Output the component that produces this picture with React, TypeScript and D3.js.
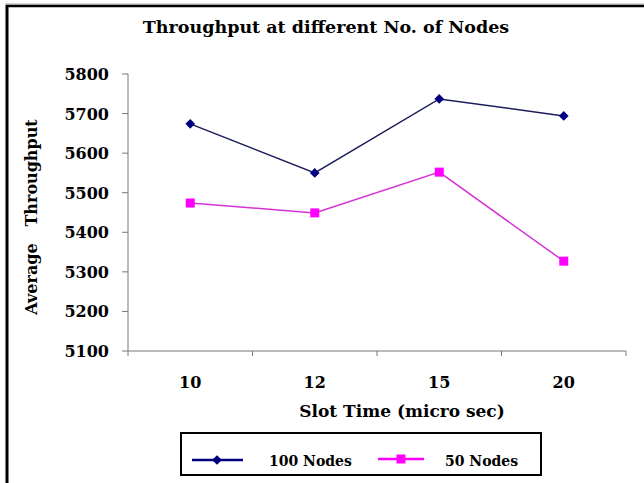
import React from 'react';
import * as d3 from 'd3';

// Values
const slotTimes = ['10', '12', '15', '20'];
const nodes100 = [5674, 5550, 5737, 5694];
const nodes50 = [5474, 5449, 5552, 5327];
const yTicks = [5100, 5200, 5300, 5400, 5500, 5600, 5700, 5800];

const W = 644;
const H = 483;
const FONT = 'DejaVu Serif, Liberation Serif, serif';
const NAVY = '#000080';
const MAGENTA = '#ff00ff';

const App = () => {
  const margin = { left: 128, right: 18, top: 74, bottom: 132 };

  const x = d3.scaleBand<string>()
    .domain(slotTimes)
    .range([margin.left, W - margin.right]);
  const y = d3.scaleLinear()
    .domain([5100, 5800])
    .range([H - margin.bottom, margin.top]);

  const cx = (d: string) => (x(d) ?? 0) + x.bandwidth() / 2;

  const line = d3.line<number>()
    .x((_, i) => cx(slotTimes[i]))
    .y(d => y(d));

  const diamond = d3.symbol().type(d3.symbolDiamond2).size(60)()!;
  const y0 = y(5100);

  // band edges for x ticks
  const xEdges = slotTimes.map(d => x(d) ?? 0).concat([W - margin.right]);

  return (
    <svg width={W} height={H} style={{ position: 'absolute', left: 0, top: 0, background: '#fff' }}>
      {/* outer frame (top and left only visible) */}
      <line x1={5} x2={W} y1={4} y2={4} stroke='#aaa' strokeWidth={1} />
      <line x1={6} x2={W} y1={6} y2={6} stroke='#000' strokeWidth={2.5} />
      <line x1={7} x2={7} y1={5} y2={H} stroke='#000' strokeWidth={3} />

      {/* title */}
      <text x={326} y={33} textAnchor='middle' fontFamily={FONT} fontWeight='bold' fontSize={17.5}>
        Throughput at different No. of Nodes
      </text>

      {/* y axis */}
      <line x1={margin.left} x2={margin.left} y1={y(5800)} y2={y0} stroke='#777' strokeWidth={1} />
      {yTicks.map(t => (
        <g key={t}>
          <line x1={margin.left - 6} x2={margin.left} y1={y(t)} y2={y(t)} stroke='#777' />
          <text x={109} y={y(t) + 6} textAnchor='end' fontFamily={FONT} fontWeight='bold' fontSize={16}>
            {t}
          </text>
        </g>
      ))}

      {/* x axis */}
      <line x1={margin.left} x2={W - margin.right} y1={y0} y2={y0} stroke='#777' strokeWidth={1} />
      {xEdges.map((e, i) => (
        <line key={i} x1={e} x2={e} y1={y0} y2={y0 + 5} stroke='#777' />
      ))}
      {slotTimes.map(d => (
        <text key={d} x={cx(d)} y={y0 + 37} textAnchor='middle' fontFamily={FONT} fontWeight='bold' fontSize={16}>
          {d}
        </text>
      ))}

      {/* axis titles */}
      <text x={402} y={417} textAnchor='middle' fontFamily={FONT} fontWeight='bold' fontSize={17}>
        Slot Time (micro sec)
      </text>
      <text
        transform='translate(37,217) rotate(-90)'
        textAnchor='middle'
        fontFamily={FONT}
        fontWeight='bold'
        fontSize={16}
        style={{ whiteSpace: 'pre' }}
      >
        {'Average   Throughput'}
      </text>

      {/* series */}
      <path d={line(nodes100) ?? ''} fill='none' stroke='#1c1c5c' strokeWidth={1.5} />
      <path d={line(nodes50) ?? ''} fill='none' stroke='#d633d6' strokeWidth={1.5} />
      {nodes100.map((v, i) => (
        <path key={i} d={diamond} transform={`translate(${cx(slotTimes[i])},${y(v)})`} fill={NAVY} />
      ))}
      {nodes50.map((v, i) => (
        <rect key={i} x={cx(slotTimes[i]) - 4.5} y={y(v) - 4.5} width={9} height={9} fill={MAGENTA} />
      ))}

      {/* legend */}
      <rect x={181} y={433} width={360} height={42} fill='#fff' stroke='#000' strokeWidth={2} />
      <line x1={192} x2={243} y1={460} y2={460} stroke={NAVY} strokeWidth={2.5} />
      <path d={diamond} transform='translate(217,460)' fill={NAVY} />
      <text x={269} y={466} fontFamily={FONT} fontWeight='bold' fontSize={14}>100 Nodes</text>
      <line x1={378} x2={424} y1={459} y2={459} stroke={MAGENTA} strokeWidth={2.5} />
      <rect x={396.5} y={454.5} width={9} height={9} fill={MAGENTA} />
      <text x={445} y={466} fontFamily={FONT} fontWeight='bold' fontSize={14}>50 Nodes</text>
    </svg>
  );
};

export default App;
